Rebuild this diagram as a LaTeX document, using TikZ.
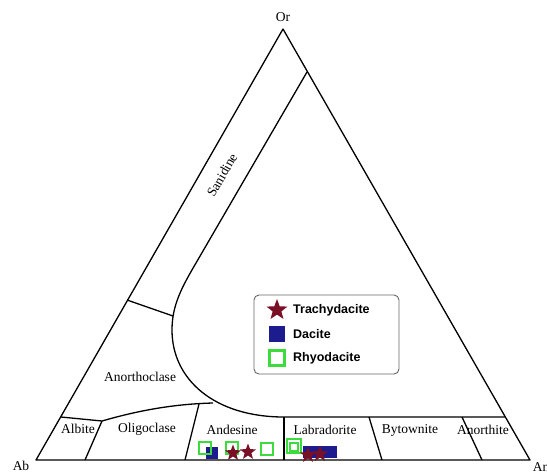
\documentclass[tikz,border=0pt]{standalone}
\usepackage{fontspec}
\setmainfont{Liberation Serif}
\setsansfont{Liberation Sans}
\usetikzlibrary{shapes.geometric}
\definecolor{trachy}{HTML}{7A1025}
\definecolor{dacite}{HTML}{1C1C8E}
\definecolor{rhyo}{HTML}{3CDC3C}

\begin{document}
\begin{tikzpicture}[x=1pt, y=-1pt,
	border/.style={line width=1.3pt, line join=round},
	field/.style={font=\fontsize{13.5}{15}\selectfont, inner sep=0pt},
	corner/.style={font=\fontsize{13.5}{15}\selectfont, inner sep=0pt},
	trachymark/.style={star, star points=5, star point ratio=2.4, fill=trachy, inner sep=0pt, minimum size=#1},
	dacitemark/.style={rectangle, fill=dacite, inner sep=0pt, minimum size=#1},
	rhyomark/.style={rectangle, draw=rhyo, line width=2.4pt, inner sep=0pt, minimum size=#1},
	keytext/.style={font=\sffamily\bfseries\fontsize{12.5}{14}\selectfont, anchor=west, inner sep=0pt}]
	\useasboundingbox (0,0) rectangle (547,475);

	% corners of the triangle
	\coordinate (Ab) at ( 36, 460);
	\coordinate (An) at (530, 460);
	\coordinate (Or) at (283,  29);

	\node[corner] (Or-T) at (283, 17) {Or};
	\node[corner] (Ab-T) at ( 21, 466) {Ab};
	\node[corner] (An-T) at (541, 467) {An};

	\draw[border] (Ab) -- (An) -- (Or) -- cycle;

	% field boundaries
	\coordinate (B-00) at ( 61, 417);
	\coordinate (B-01) at (102, 421);
	\coordinate (B-02) at (199, 404);
	\coordinate (B-03) at (284, 417);
	\coordinate (B-04) at (505, 417);
	\coordinate (B-05) at (127, 300);
	\coordinate (B-06) at (173, 316);
	\coordinate (B-07) at (307,  72);
	\coordinate (B-08) at (196, 263);

	\draw[border] (B-07) -- (B-08) .. controls (182,287) and (172,305) .. (172,330)
		.. controls (172,380) and (215,417) .. (B-03) -- (B-04);
	\draw[border] (B-05) -- (B-06);
	\draw[border] (B-00) -- (B-01) .. controls (140,410) and (175,404) .. (213,403);
	\draw[border] (B-01) -- (85,460);
	\draw[border] (B-02) -- (185,460);
	\draw[border] (B-03) -- (284,460);
	\draw[border] (369,417) -- (382,460);
	\draw[border] (462,417) -- (482,460);

	% field names
	\node[field, rotate=60] (F-00) at (222, 175) {Sanidine};
	\node[field] (F-01) at (140, 377) {Anorthoclase};
	\node[field] (F-02) at ( 78, 429) {Albite};
	\node[field] (F-03) at (147, 429) {Oligoclase};
	\node[field] (F-04) at (232, 430) {Andesine};
	\node[field] (F-05) at (325, 430) {Labradorite};
	\node[field] (F-06) at (410, 430) {Bytownite};
	\node[field] (F-07) at (483, 430) {Anorthite};

	% samples
	\node[dacitemark=12pt] (D-00) at (212, 453) {};
	\node[dacitemark=12pt] (D-01) at (309, 452) {};
	\node[dacitemark=12pt] (D-02) at (320, 452) {};
	\node[dacitemark=12pt] (D-03) at (331, 452) {};

	\node[rhyomark=12pt] (R-00) at (205, 448) {};
	\node[rhyomark=12pt] (R-01) at (232, 448) {};
	\node[rhyomark=12pt] (R-02) at (267, 449) {};
	\node[rhyomark=14pt] (R-03) at (294, 446) {};
	\node[rhyomark=8pt]  (R-04) at (294, 447) {};

	\node[trachymark=17pt] (T-00) at (233, 453) {};
	\node[trachymark=17pt] (T-01) at (248, 452) {};
	\node[trachymark=17pt] (T-02) at (308, 455) {};
	\node[trachymark=17pt] (T-03) at (320, 454) {};

	% legend
	\draw[gray!80!black, line width=0.9pt, rounded corners=5pt] (254,295) rectangle (399,374);
	\node[trachymark=22pt] (K-00) at (277, 310) {};
	\node[dacitemark=16pt] (K-01) at (277, 334) {};
	\node[rhyomark=15pt]   (K-02) at (277, 358) {};
	\node[keytext] (K-T00) at (293, 310) {Trachydacite};
	\node[keytext] (K-T01) at (293, 334) {Dacite};
	\node[keytext] (K-T02) at (293, 358) {Rhyodacite};
\end{tikzpicture}
\end{document}
